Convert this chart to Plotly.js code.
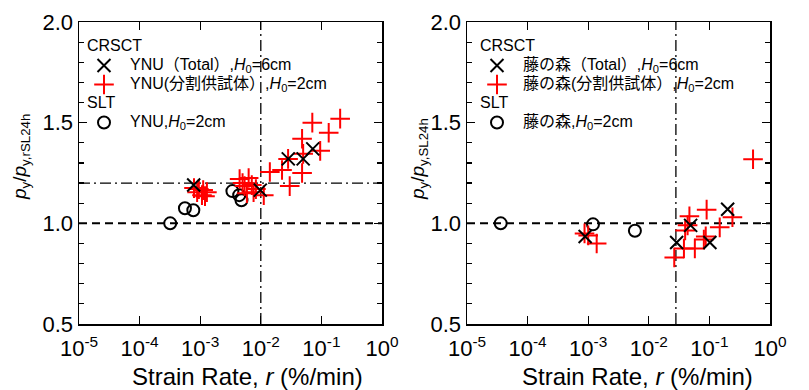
<!DOCTYPE html>
<html>
<head>
<meta charset="utf-8">
<script src="https://cdn.plot.ly/plotly-3.0.1.min.js"></script>
<style>html,body{margin:0;padding:0;background:#fff;}#chart{width:809px;height:390px;}</style>
</head>
<body>
<div id="chart"></div>
<script>
// ---- Left panel (YNU) ----
const ynuTotalRate = [7.8e-4, 9.8e-3, 0.0284, 0.050, 0.072];
const ynuTotalRatio = [1.19, 1.165, 1.32, 1.32, 1.37];

const ynuSplitRate = [0.0708, 0.204, 0.132, 0.048, 0.0955, 0.050, 0.0282, 0.0224, 0.0141, 0.048, 0.030,
  4.47e-3, 6.3e-3, 5.4e-3, 7.1e-3, 8.3e-3, 5.9e-3, 7.6e-3, 0.0112, 5.0e-3,
  7.9e-4, 9.5e-4, 1.12e-3, 1.29e-3, 8.9e-4, 1.07e-3, 1.2e-3];
const ynuSplitRatio = [1.50, 1.52, 1.45, 1.42, 1.36, 1.345, 1.32, 1.265, 1.255, 1.25, 1.185,
  1.22, 1.225, 1.185, 1.19, 1.17, 1.15, 1.155, 1.14, 1.20,
  1.175, 1.17, 1.165, 1.155, 1.155, 1.14, 1.135];

const ynuSltRate = [3.2e-4, 5.6e-4, 7.7e-4, 3.4e-3, 4.4e-3, 4.8e-3];
const ynuSltRatio = [1.0, 1.075, 1.065, 1.16, 1.14, 1.115];

// ---- Right panel (藤の森) ----
const fujiTotalRate = [8.9e-4, 0.0288, 0.049, 0.102, 0.20];
const fujiTotalRatio = [0.935, 0.905, 0.99, 0.905, 1.07];

const fujiSplitRate = [8.7e-4, 1.0e-3, 1.38e-3, 0.0263, 0.038, 0.0575, 0.0468, 0.0437, 0.0398,
  0.090, 0.087, 0.081, 0.148, 0.24, 0.525];
const fujiSplitRatio = [0.95, 0.94, 0.90, 0.83, 0.875, 0.875, 1.035, 0.99, 0.965,
  1.068, 0.935, 0.92, 0.98, 1.03, 1.318];

const fujiSltRate = [3.6e-5, 1.2e-3, 5.9e-3];
const fujiSltRatio = [1.0, 0.995, 0.963];

// reference lines
const rateSpan = [1e-5, 1];
const ratioSpan = [0.5, 2.0];
const baseRatio = 1.0;
const leftLimitRatio = 1.2;
const leftLimitRate = 0.01;
const rightLimitRate = 0.028;

const xTickVals = [1e-5, 1e-4, 1e-3, 1e-2, 1e-1, 1];
const xTickText = ['10<sup>-5</sup>', '10<sup>-4</sup>', '10<sup>-3</sup>', '10<sup>-2</sup>', '10<sup>-1</sup>', '10<sup>0</sup>'];
const yTickVals = [0.5, 1.0, 1.5, 2.0];

const xTitle = 'Strain Rate, <i>r</i> (%/min)';
const yTitleLeft = '<i>p</i><sub>y</sub>/<i>p</i><sub>y,rSL24h</sub>';
const yTitleRight = '<i>p</i><sub>y</sub>/<i>p</i><sub>y,SL24h</sub>';

const FONT = 'Liberation Sans, Arial, Noto Sans CJK JP, sans-serif';
const LEG = s => '<span style="font-size:16px">' + s + '</span>';

function hline(y, dash, w, xa, ya) {
  return {x: rateSpan, y: [y, y], mode: 'lines', xaxis: xa, yaxis: ya, showlegend: false,
    hoverinfo: 'skip', line: {color: '#000', width: w, dash: dash}};
}
function vline(x, dash, w, xa, ya) {
  return {x: [x, x], y: ratioSpan, mode: 'lines', xaxis: xa, yaxis: ya, showlegend: false,
    hoverinfo: 'skip', line: {color: '#000', width: w, dash: dash}};
}

const xMk = {symbol: 'x-thin-open', size: 13, color: '#000', line: {color: '#000', width: 2}};
const pMk = {symbol: 'cross-thin-open', size: 14, color: '#ff0000', line: {color: '#ff0000', width: 2}};
const oMk = {symbol: 'circle-open', size: 12, color: '#000', line: {color: '#000', width: 2}};
const DASH = '8px,5px';
const DASHDOT = '11px,4px,2px,4px';

const traces = [
  hline(baseRatio, DASH, 2, 'x', 'y'),
  hline(leftLimitRatio, DASHDOT, 1.3, 'x', 'y'),
  vline(leftLimitRate, DASHDOT, 1.3, 'x', 'y'),
  hline(baseRatio, DASH, 2, 'x2', 'y2'),
  vline(rightLimitRate, DASHDOT, 1.3, 'x2', 'y2'),

  {x: ynuSltRate, y: ynuSltRatio, mode: 'markers', xaxis: 'x', yaxis: 'y', marker: oMk,
   name: LEG('YNU,<i>H</i><sub>0</sub>=2cm'), legend: 'legend', legendgroup: 'slt1', legendgrouptitle: {text: LEG('SLT')}, legendrank: 3},
  {x: ynuSplitRate, y: ynuSplitRatio, mode: 'markers', xaxis: 'x', yaxis: 'y', marker: pMk,
   name: LEG('YNU(分割供試体）,<i>H</i><sub>0</sub>=2cm'), legend: 'legend', legendgroup: 'crs1', legendgrouptitle: {text: LEG('CRSCT')}, legendrank: 2},
  {x: ynuTotalRate, y: ynuTotalRatio, mode: 'markers', xaxis: 'x', yaxis: 'y', marker: xMk,
   name: LEG('YNU（Total）,<i>H</i><sub>0</sub>=6cm'), legend: 'legend', legendgroup: 'crs1', legendgrouptitle: {text: LEG('CRSCT')}, legendrank: 1},

  {x: fujiSltRate, y: fujiSltRatio, mode: 'markers', xaxis: 'x2', yaxis: 'y2', marker: oMk,
   name: LEG('藤の森,<i>H</i><sub>0</sub>=2cm'), legend: 'legend2', legendgroup: 'slt2', legendgrouptitle: {text: LEG('SLT')}, legendrank: 3},
  {x: fujiSplitRate, y: fujiSplitRatio, mode: 'markers', xaxis: 'x2', yaxis: 'y2', marker: pMk,
   name: LEG('藤の森(分割供試体）,<i>H</i><sub>0</sub>=2cm'), legend: 'legend2', legendgroup: 'crs2', legendgrouptitle: {text: LEG('CRSCT')}, legendrank: 2},
  {x: fujiTotalRate, y: fujiTotalRatio, mode: 'markers', xaxis: 'x2', yaxis: 'y2', marker: xMk,
   name: LEG('藤の森（Total）,<i>H</i><sub>0</sub>=6cm'), legend: 'legend2', legendgroup: 'crs2', legendgrouptitle: {text: LEG('CRSCT')}, legendrank: 1}
];

function xaxisCfg(domain, anchor) {
  return {type: 'log', range: [-5, 0], domain: domain, anchor: anchor,
    tickvals: xTickVals, ticktext: xTickText, tickangle: 0, ticklabelstandoff: 4,
    ticks: 'inside', ticklen: 8, tickwidth: 1.3, tickcolor: '#000',
    showline: true, linecolor: '#000', linewidth: 1.5, mirror: 'ticks',
    showgrid: false, zeroline: false,
    tickfont: {family: FONT, size: 22, color: '#000'}};
}
function yaxisCfg(anchor) {
  return {range: [0.5, 2.0], domain: [0, 1], anchor: anchor,
    tickvals: yTickVals, tickformat: '.1f',
    ticks: 'inside', ticklen: 8, tickwidth: 1.3, tickcolor: '#000',
    minor: {dtick: 0.1, ticks: 'inside', ticklen: 5, tickwidth: 1.2, tickcolor: '#000', showgrid: false},
    showline: true, linecolor: '#000', linewidth: 1.5, mirror: 'ticks',
    showgrid: false, zeroline: false,
    tickfont: {family: FONT, size: 22, color: '#000'}};
}

function legendCfg(x) {
  return {x: x, y: 0.967, xanchor: 'left', yanchor: 'top', bgcolor: 'rgba(0,0,0,0)',
    borderwidth: 0, font: {family: FONT, size: 10.7, color: '#000'},
    grouptitlefont: {family: FONT, size: 10.7, color: '#000'},
    tracegroupgap: 0, traceorder: 'grouped', itemwidth: 42, indentation: -4};
}

const titleFont = {family: FONT, size: 24, color: '#000'};
const yTitleFont = {family: FONT, size: 19, color: '#000'};

const layout = {
  width: 809, height: 390,
  margin: {l: 0, r: 0, t: 22, b: 66},
  paper_bgcolor: '#fff', plot_bgcolor: '#fff',
  font: {family: FONT, color: '#000'},
  xaxis: xaxisCfg([79/809, 382/809], 'y'),
  yaxis: yaxisCfg('x'),
  xaxis2: xaxisCfg([467/809, 770/809], 'y2'),
  yaxis2: yaxisCfg('x2'),
  legend: legendCfg(82/809),
  legend2: legendCfg(475/809),
  showlegend: true,
  annotations: [
    {text: xTitle, xref: 'paper', yref: 'paper', x: 248/809, y: -53/302, xanchor: 'center', yanchor: 'middle', showarrow: false, font: titleFont},
    {text: xTitle, xref: 'paper', yref: 'paper', x: 637/809, y: -53/302, xanchor: 'center', yanchor: 'middle', showarrow: false, font: titleFont},
    {text: yTitleLeft, xref: 'paper', yref: 'paper', x: 21/809, y: (324-157)/302, xanchor: 'center', yanchor: 'middle', textangle: -90, showarrow: false, font: yTitleFont},
    {text: yTitleRight, xref: 'paper', yref: 'paper', x: 419/809, y: (324-159)/302, xanchor: 'center', yanchor: 'middle', textangle: -90, showarrow: false, font: yTitleFont}
  ]
};

Plotly.newPlot('chart', traces, layout, {staticPlot: true, displayModeBar: false});
</script>
</body>
</html>
